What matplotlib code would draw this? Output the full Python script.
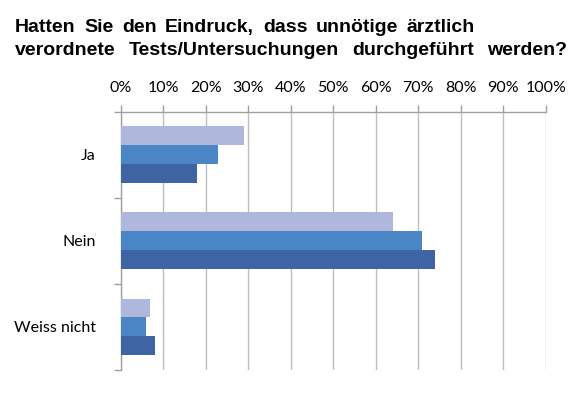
import matplotlib
matplotlib.use("Agg")
import matplotlib.pyplot as plt
import numpy as np

# Antwortkategorien und drei Serien (Anteile in %)
categories = ["Ja", "Nein", "Weiss nicht"]
series_light = [29, 64, 7]
series_mid = [23, 71, 6]
series_dark = [18, 74, 8]
xticks = list(range(0, 101, 10))
title_lines = ["Hatten Sie den Eindruck, dass unnötige ärztlich",
               "verordnete Tests/Untersuchungen durchgeführt werden?"]

colors = ["#AFB8DC", "#4A85C6", "#3F64A3"]
bar_h = 0.22
W, H = 584, 394

fig = plt.figure(figsize=(W / 100, H / 100), dpi=100)
ax = fig.add_axes([120.7 / W, 1 - 370 / H, 425 / W, (370 - 111.7) / H])

y = np.arange(len(categories))
for off, vals, c in zip([-bar_h, 0, bar_h], [series_light, series_mid, series_dark], colors):
    ax.barh(y + off, vals, height=bar_h, color=c, edgecolor="none", zorder=3)

ax.set_xlim(0, 100)
ax.set_ylim(len(categories) - 0.5, -0.5)

# x-Achse oben
ax.xaxis.tick_top()
ax.set_xticks(xticks)
ax.set_xticklabels([f"{v}%" for v in xticks], family="Lato", fontsize=11.5)
ax.tick_params(axis="x", which="major", direction="out", length=5, width=1,
               color="#A0A0A0", pad=7)
ax.grid(axis="x", color="#BEBEBE", lw=1, zorder=0)

# y-Achse: Striche an Kategoriegrenzen
ax.set_yticks(y)
ax.set_yticklabels(categories, family="Lato", fontsize=11.5)
ax.set_yticks(np.arange(len(categories) + 1) - 0.5, minor=True)
ax.tick_params(axis="y", which="major", length=0, pad=18)
ax.tick_params(axis="y", which="minor", direction="out", length=5, width=1, color="#A0A0A0")

for s in ["right", "bottom"]:
    ax.spines[s].set_visible(False)
for s in ["left", "top"]:
    ax.spines[s].set_color("#A0A0A0")
    ax.spines[s].set_linewidth(1)

# Titel im Blocksatz: Wörter gleichmäßig zwischen linkem und rechtem Rand verteilen
renderer = fig.canvas.get_renderer()
for line, base, x_end in zip(title_lines, [32, 55], [475, 567]):
    words = line.split(" ")
    texts = [fig.text(0, 1 - base / H, w, ha="left", va="baseline", fontsize=14,
                      fontweight="bold", family="Liberation Sans") for w in words]
    widths = [t.get_window_extent(renderer).width for t in texts]
    gap = (x_end - 15 - sum(widths)) / (len(words) - 1)
    x = 15
    for t, w in zip(texts, widths):
        t.set_x(x / W)
        x += w + gap

fig.savefig("out.png", dpi=100)
